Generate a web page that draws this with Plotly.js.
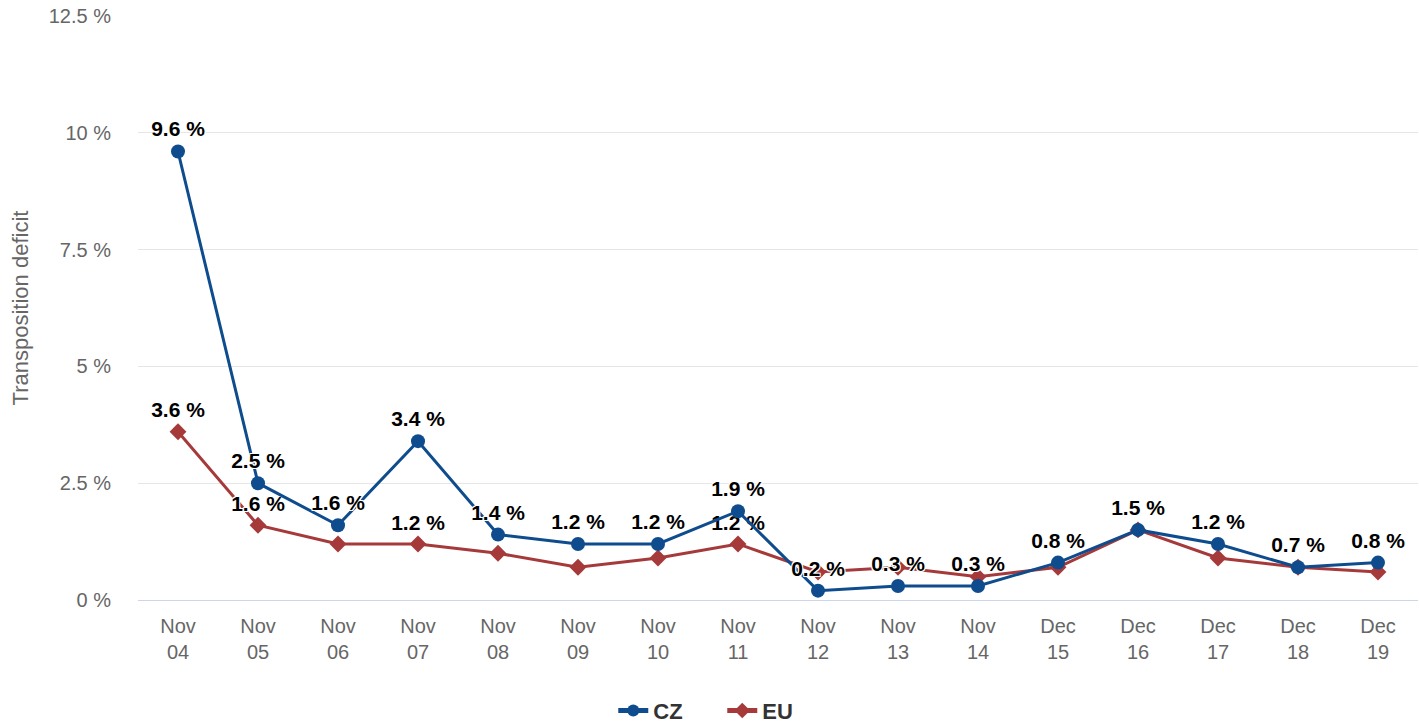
<!DOCTYPE html>
<html>
<head>
<meta charset="utf-8">
<script src="https://cdn.plot.ly/plotly-3.0.1.min.js"></script>
<style>
html,body{margin:0;padding:0;background:#fff;}
#chart{width:1419px;height:723px;}
</style>
</head>
<body>
<div id="chart"></div>
<script>
const categories = ["Nov<br>04","Nov<br>05","Nov<br>06","Nov<br>07","Nov<br>08","Nov<br>09","Nov<br>10","Nov<br>11","Nov<br>12","Nov<br>13","Nov<br>14","Dec<br>15","Dec<br>16","Dec<br>17","Dec<br>18","Dec<br>19"];
const czValues = [9.6, 2.5, 1.6, 3.4, 1.4, 1.2, 1.2, 1.9, 0.2, 0.3, 0.3, 0.8, 1.5, 1.2, 0.7, 0.8];
const euValues = [3.6, 1.6, 1.2, 1.2, 1.0, 0.7, 0.9, 1.2, 0.6, 0.7, 0.5, 0.7, 1.5, 0.9, 0.7, 0.6];
const czLabelShown = [true,true,true,true,true,true,true,true,true,true,true,true,true,true,true,true];
const euLabelShown = [true,true,false,true,false,false,false,true,false,false,false,false,false,false,false,false];
const yTickValues = [0, 2.5, 5, 7.5, 10, 12.5];
const yTickLabels = ["0 %", "2.5 %", "5 %", "7.5 %", "10 %", "12.5 %"];

const xIdx = categories.map((c, i) => i);
const fmt = v => v.toFixed(1) + " %";
const czText = czValues.map((v, i) => czLabelShown[i] ? fmt(v) : "");
const euText = euValues.map((v, i) => euLabelShown[i] ? fmt(v) : "");

const FONT = "Liberation Sans, Arial, Helvetica, sans-serif";
const labelFont = {family: FONT, size: 21, color: "#000", weight: "bold",
  shadow: "1px 1px 0 #fff, -1px -1px 0 #fff, 1px -1px 0 #fff, -1px 1px 0 #fff"};

const traces = [
  {
    x: xIdx, y: euValues, name: "EU", type: "scatter", mode: "lines+markers+text",
    line: {color: "#a63a3a", width: 3},
    marker: {symbol: "diamond", size: 13, color: "#a63a3a"},
    text: euText, textposition: "top center", textfont: labelFont,
    cliponaxis: false, hoverinfo: "skip", showlegend: true
  },
  {
    x: xIdx, y: czValues, name: "CZ", type: "scatter", mode: "lines+markers+text",
    line: {color: "#0e4c8e", width: 3},
    marker: {symbol: "circle", size: 14, color: "#0e4c8e"},
    text: czText, textposition: "top center", textfont: labelFont,
    cliponaxis: false, hoverinfo: "skip", showlegend: true
  }
];

const layout = {
  width: 1419, height: 723,
  margin: {l: 138, r: 1, t: 16, b: 123, autoexpand: false},
  paper_bgcolor: "#fff", plot_bgcolor: "#fff",
  font: {family: FONT, color: "#666"},
  showlegend: true,
  legend: {orientation: "h", x: 0.509, xanchor: "center", xref: "container",
    y: 0.017, yanchor: "middle", yref: "container",
    traceorder: "reversed", entrywidth: 64,
    font: {family: FONT, size: 22, color: "#333", weight: "bold"}, itemsizing: "constant"},
  xaxis: {
    range: [-0.5, 15.5], tickmode: "array", tickvals: xIdx, ticktext: categories,
    showgrid: false, zeroline: false, showline: true, linecolor: "#ccd6eb", linewidth: 1,
    ticks: "", ticklabelstandoff: 8, tickfont: {family: FONT, size: 20, color: "#666"}, fixedrange: true
  },
  yaxis: {
    range: [0, 12.5], tickmode: "array", tickvals: yTickValues, ticktext: yTickLabels,
    showgrid: true, gridcolor: "#e6e6e6", gridwidth: 1, zeroline: false, showline: false,
    ticks: "", ticklabelstandoff: 26,
    tickfont: {family: FONT, size: 20, color: "#666"},
    title: {text: "Transposition deficit", font: {family: FONT, size: 22, color: "#666"}, standoff: 14},
    fixedrange: true
  }
};

Plotly.newPlot("chart", traces, layout, {displayModeBar: false, staticPlot: true});
</script>
</body>
</html>
